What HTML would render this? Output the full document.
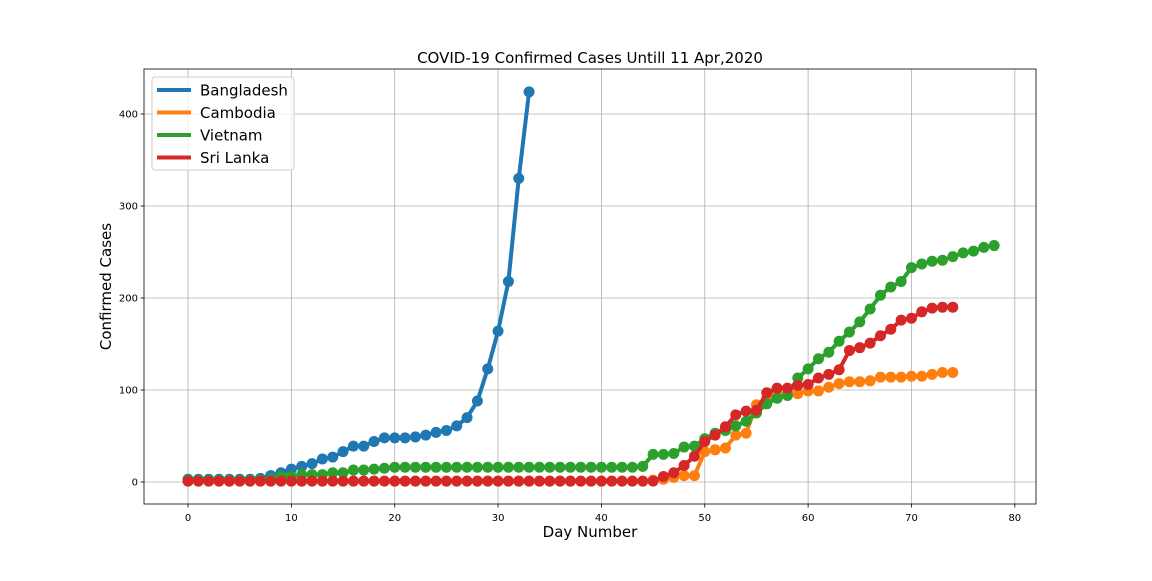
<!DOCTYPE html>
<html><head><meta charset="utf-8"><style>
body{margin:0;background:#fff;font-family:"Liberation Sans","DejaVu Sans",sans-serif}
svg text{font-family:"DejaVu Sans","Liberation Sans",sans-serif}
</style></head><body>
<svg id="c" width="1152" height="576" xmlns="http://www.w3.org/2000/svg"></svg>
<script>
const bangladesh=[3,3,3,3,3,3,3,4,7,10,14,17,20,25,27,33,39,39,44,48,48,48,49,51,54,56,61,70,88,123,164,218,330,424];
const cambodia=[1,1,1,1,1,1,1,1,1,1,1,1,1,1,1,1,1,1,1,1,1,1,1,1,1,1,1,1,1,1,1,1,1,1,1,1,1,1,1,1,1,1,1,1,1,2,3,5,7,7,33,35,37,51,53,84,91,96,96,96,99,99,103,107,109,109,110,114,114,114,115,115,117,119,119];
const vietnam=[2,2,2,2,2,2,2,2,3,6,6,8,8,8,10,10,13,13,14,15,16,16,16,16,16,16,16,16,16,16,16,16,16,16,16,16,16,16,16,16,16,16,16,16,17,30,30,31,38,39,47,53,56,61,66,75,85,91,94,113,123,134,141,153,163,174,188,203,212,218,233,237,240,241,245,249,251,255,257];
const srilanka=[1,1,1,1,1,1,1,1,1,1,1,1,1,1,1,1,1,1,1,1,1,1,1,1,1,1,1,1,1,1,1,1,1,1,1,1,1,1,1,1,1,1,1,1,1,1,6,10,18,28,44,51,60,73,77,78,97,102,102,105,106,113,117,122,143,146,151,159,166,176,178,185,189,190,190];
const seriesNames=["Bangladesh","Cambodia","Vietnam","Sri Lanka"];
const seriesColors=["#1f77b4","#ff7f0e","#2ca02c","#d62728"];
const xTicks=[0,10,20,30,40,50,60,70,80];
const yTicks=[0,100,200,300,400];
const L=144,R=1036,T=69,B=504;
const xmin=-4.26,xmax=82.05,ymin=-23.9,ymax=448.9;
const X=v=>L+(v-xmin)/(xmax-xmin)*(R-L);
const Y=v=>B-(v-ymin)/(ymax-ymin)*(B-T);
const svg=document.getElementById('c');const NS='http://www.w3.org/2000/svg';
function mk(t,a,p){const e=document.createElementNS(NS,t);for(const k in a)e.setAttribute(k,a[k]);(p||svg).appendChild(e);return e;}
let e;
e=mk('rect',{x:L,y:T,width:R-L,height:B-T,fill:'#fff'});


xTicks.forEach(t=>{
 e=mk('line',{x1:X(t),x2:X(t),y1:T,y2:B,stroke:'#b0b0b0','stroke-width':0.8});
 
 
 mk('line',{x1:X(t),x2:X(t),y1:B,y2:B+3.5,stroke:'#000','stroke-width':0.8});
 e=mk('text',{x:X(t),y:B+17,'text-anchor':'middle','font-size':10});e.textContent=t;
 
 
});
yTicks.forEach(t=>{
 e=mk('line',{x1:L,x2:R,y1:Y(t),y2:Y(t),stroke:'#b0b0b0','stroke-width':0.8});
 
 
 mk('line',{x1:L-3.5,x2:L,y1:Y(t),y2:Y(t),stroke:'#000','stroke-width':0.8});
 e=mk('text',{x:L-6,y:Y(t)+3.5,'text-anchor':'end','font-size':10});e.textContent=t;
 
 
});
[bangladesh,cambodia,vietnam,srilanka].forEach((d,i)=>{
 const g=mk('g',{});
 
 
 mk('polyline',{points:d.map((v,j)=>X(j)+','+Y(v)).join(' '),fill:'none',stroke:seriesColors[i],'stroke-width':4,'stroke-linejoin':'round'},g);
 d.forEach((v,j)=>{const c=mk('circle',{cx:X(j),cy:Y(v),r:5.5,fill:seriesColors[i]},g);
  
  });
});
e=mk('rect',{x:L,y:T,width:R-L,height:B-T,fill:'none',stroke:'#000','stroke-width':0.8});


e=mk('text',{x:(L+R)/2,y:63,'text-anchor':'middle','font-size':15});e.textContent='COVID-19 Confirmed Cases Untill 11 Apr,2020';


e=mk('text',{x:(L+R)/2,y:537,'text-anchor':'middle','font-size':15});e.textContent='Day Number';


e=mk('text',{x:111,y:(T+B)/2,'text-anchor':'middle','font-size':15,transform:'rotate(-90 111 '+(T+B)/2+')'});e.textContent='Confirmed Cases';


const lg=mk('g',{});


mk('rect',{x:152,y:77,width:142,height:93,rx:3,fill:'#fff','fill-opacity':0.8,stroke:'#ccc'},lg);
seriesNames.forEach((n,i)=>{
 const yy=90+i*22.5;
 const it=mk('g',{},lg);
 
 
 mk('line',{x1:157,x2:191,y1:yy,y2:yy,stroke:seriesColors[i],'stroke-width':4},it);
 const t=mk('text',{x:200,y:yy+5.5,'font-size':15},it);t.textContent=n;
});
</script>
</body></html>
